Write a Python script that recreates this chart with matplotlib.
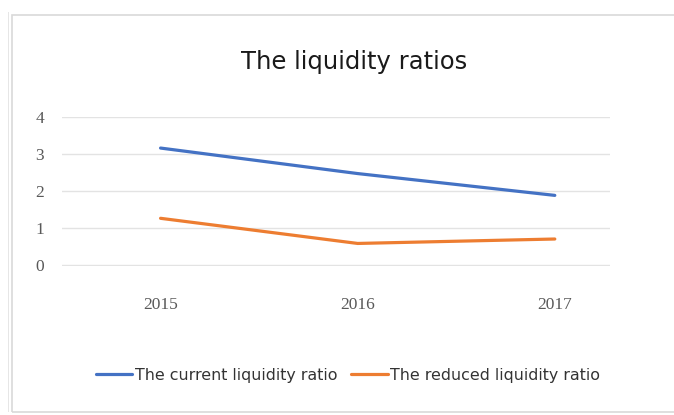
import matplotlib
matplotlib.use("Agg")
import matplotlib.pyplot as plt
from matplotlib.patches import Rectangle

years = ["2015", "2016", "2017"]
current_ratio = [3.16, 2.47, 1.88]
reduced_ratio = [1.26, 0.58, 0.70]
series_names = ["The current liquidity ratio", "The reduced liquidity ratio"]

fig = plt.figure(figsize=(6.74, 4.15), dpi=100)
W, H = 674, 415

# outer chart frame
fig.patches.append(Rectangle((12 / W, 1 - 412 / H), 700 / W, 397 / H,
                             transform=fig.transFigure, fill=False,
                             edgecolor="#d9d9d9", linewidth=1.2))
fig.patches.append(Rectangle((8 / W, 1 - 412 / H), 0.001, 400 / H,
                             transform=fig.transFigure, fill=True,
                             facecolor="#e6e6e6", edgecolor="none"))

ax = fig.add_axes([62 / W, 1 - 266 / H, (610 - 62) / W, (266 - 117) / H])

x = range(len(years))
l1, = ax.plot(x, current_ratio, color="#4472C4", linewidth=2.3,
              solid_capstyle="round", label=series_names[0])
l2, = ax.plot(x, reduced_ratio, color="#ED7D31", linewidth=2.3,
              solid_capstyle="round", label=series_names[1])

ax.set_xlim(-0.5, 2.28)
ax.set_ylim(-0.03, 4)
ax.set_yticks([0, 1, 2, 3, 4])
ax.set_xticks(list(x))
ax.set_xticklabels(years)
ax.yaxis.grid(True, color="#e3e3e3", linewidth=1.0)
ax.set_axisbelow(True)
for s in ax.spines.values():
    s.set_visible(False)
ax.tick_params(axis="both", length=0, colors="#595959", labelsize=12.5)
ax.tick_params(axis="x", pad=22)
ax.tick_params(axis="y", pad=13)
for lab in ax.get_xticklabels() + ax.get_yticklabels():
    lab.set_family("Liberation Serif")

fig.text(354 / W, 1 - 62 / H, "The liquidity ratios", ha="center", va="center",
         fontsize=17.5, color="#1a1a1a", family="DejaVu Sans")

fig.legend(handles=[l1, l2], loc="center", bbox_to_anchor=(348 / W, 1 - 375 / H),
           ncol=2, frameon=False, handlelength=2.3,
           handletextpad=0.15, columnspacing=0.9, labelcolor="#333333",
           prop={"family": "DejaVu Sans", "size": 11.4})

fig.savefig("out.png", dpi=100)
